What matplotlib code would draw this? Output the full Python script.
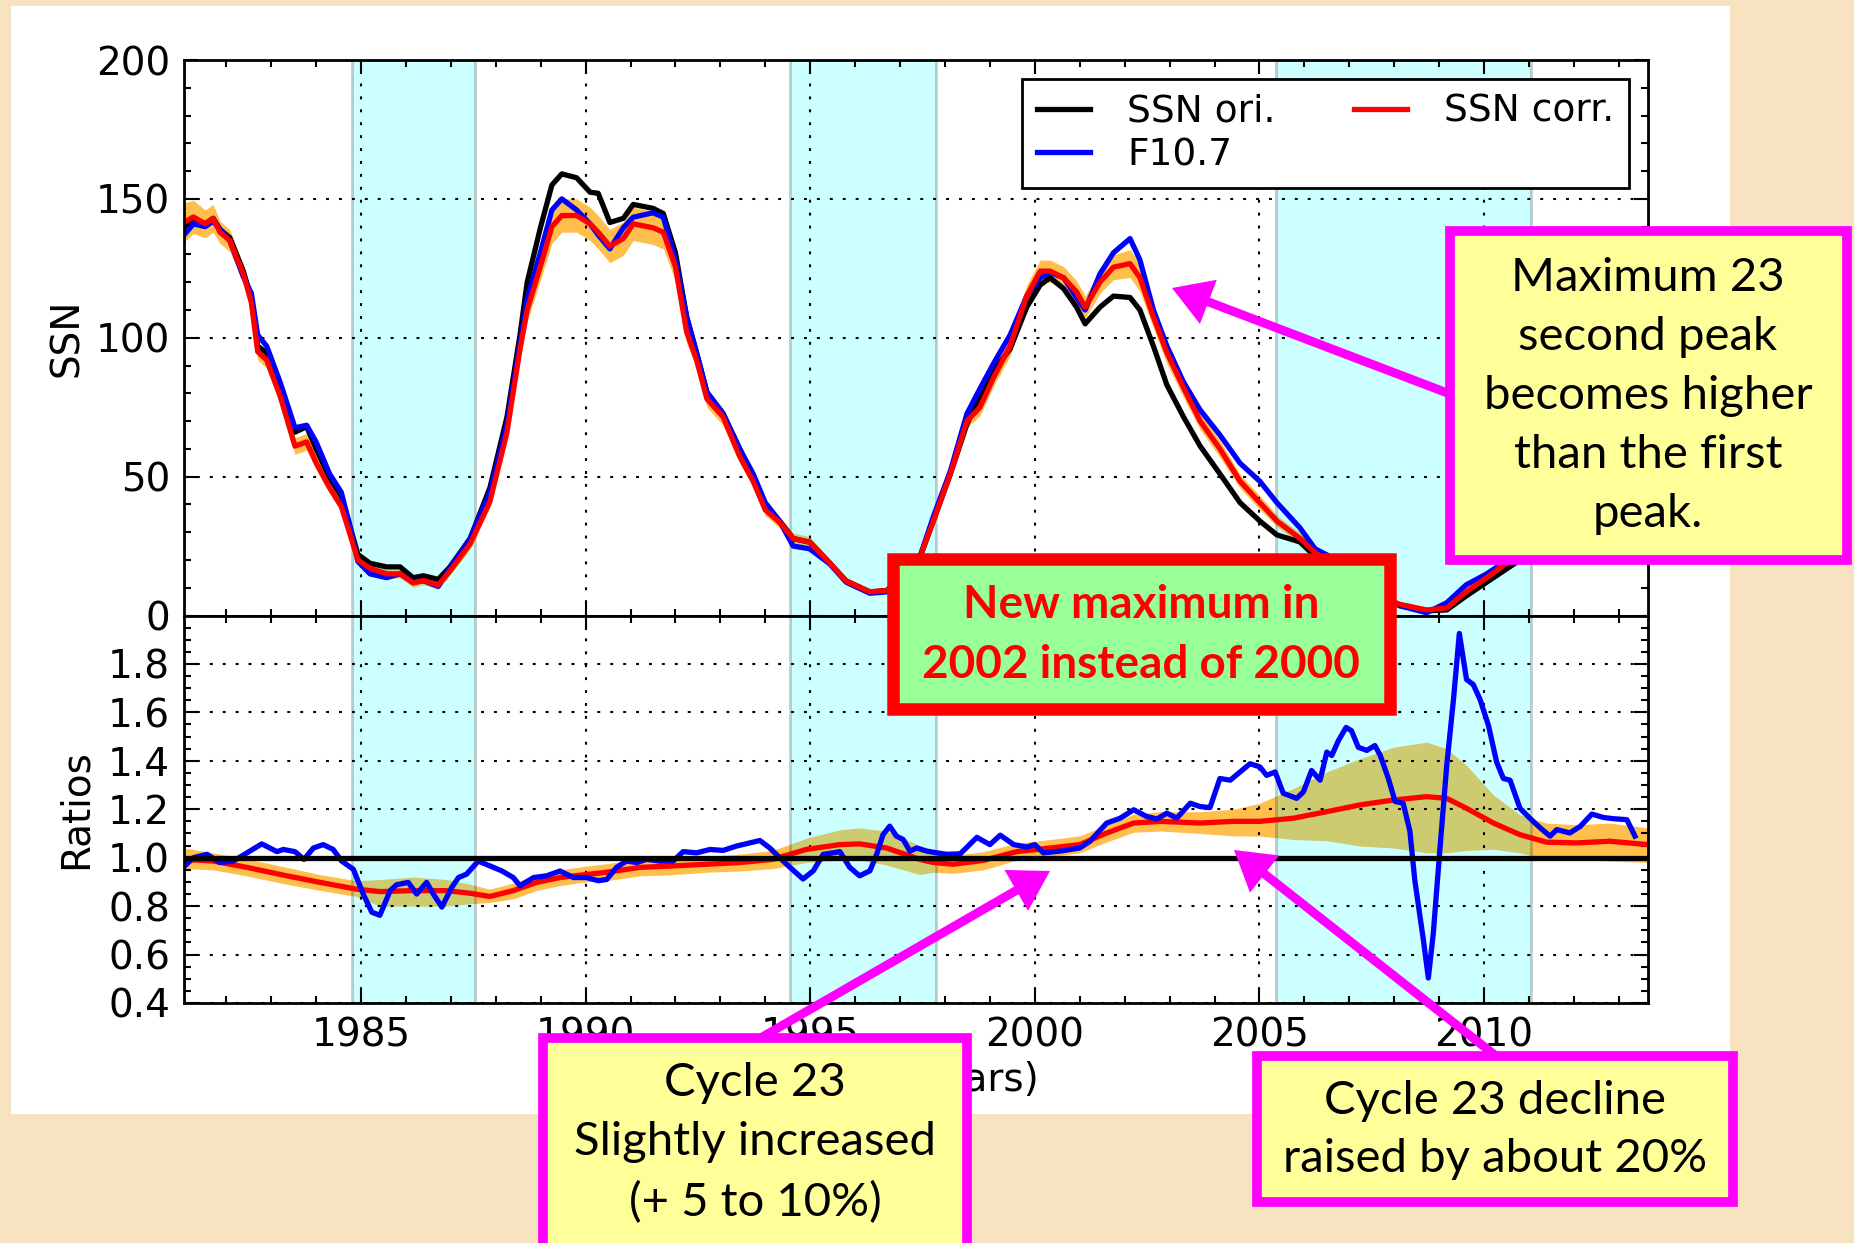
import matplotlib
matplotlib.use("Agg")
import matplotlib.pyplot as plt
import numpy as np
from matplotlib.patches import Rectangle, FancyArrowPatch
from matplotlib.ticker import MultipleLocator, FormatStrFormatter

W, H = 1854, 1243

# ---- top panel: SSN original, F10.7 proxy, corrected SSN (+ error)
years_top = [1981.06, 1981.27, 1981.53, 1981.71, 1981.86, 1982.08, 1982.38, 1982.56, 1982.70, 1982.90,
             1983.20, 1983.53, 1983.79, 1984.00, 1984.30, 1984.56, 1984.74, 1984.93, 1985.20, 1985.57,
             1985.87, 1986.16, 1986.39, 1986.72, 1986.98, 1987.43, 1987.87, 1988.25, 1988.54, 1988.70,
             1989.00, 1989.25, 1989.47, 1989.80, 1990.10, 1990.28, 1990.54, 1990.84, 1991.06, 1991.50,
             1991.73, 1992.00, 1992.25, 1992.47, 1992.70, 1993.06, 1993.43, 1993.73, 1994.00, 1994.32,
             1994.62, 1994.99, 1995.44, 1995.80, 1996.33, 1996.70, 1997.00, 1997.45, 1997.74, 1998.12,
             1998.49, 1998.78, 1999.08, 1999.45, 1999.82, 2000.12, 2000.34, 2000.64, 2000.93, 2001.12,
             2001.45, 2001.75, 2002.12, 2002.34, 2002.64, 2002.94, 2003.31, 2003.68, 2004.12, 2004.57,
             2005.01, 2005.39, 2005.90, 2006.24, 2006.72, 2007.30, 2007.80, 2008.13, 2008.72, 2009.17,
             2009.60, 2010.06, 2010.43, 2010.80, 2011.20, 2011.60, 2012.00, 2012.50, 2013.00, 2013.65]
ssn_ori = [140, 143, 141, 143, 139, 136, 124, 114, 97, 94.6,
           82, 66, 68, 60, 49.6, 43, 33, 22, 18.8, 17.5,
           17.5, 13.6, 14.3, 13, 17.5, 27.7, 46, 71.5, 101, 120,
           140, 155, 159, 157.6, 152.4, 152, 141.5, 143, 148, 146.6,
           144.7, 130.6, 107.5, 94.6, 80.4, 72.7, 60, 49.6, 39.3, 34,
           27.7, 26.4, 18.8, 12.4, 8.5, 9, 13, 21.3, 34, 51,
           69, 79, 88, 96, 111, 119, 121.6, 117.7, 111, 105,
           111, 115, 114.5, 110, 97, 83, 71.5, 61, 51, 40.6,
           34, 29, 26.5, 21.3, 16, 9, 6, 3.5, 1.7, 2,
           7, 12, 16, 20, 30, 45, 60, 58, 57, 60]
f107 = [137, 141, 140, 142, 139, 135, 122, 116, 101, 97,
        84, 67.6, 68.5, 62.5, 51, 44.4, 33, 19.5, 15, 13.6,
        15, 12, 12.5, 10.5, 17, 27.7, 44.5, 69, 98, 114,
        131, 146, 150, 146, 141, 137, 132, 139.6, 143.4, 145,
        143.4, 128, 107.5, 94.6, 80.4, 72.7, 60, 51, 40.6, 34,
        25, 24, 18.5, 12, 8, 8.5, 13, 21.5, 35.5, 52,
        72.7, 81.7, 90.7, 101, 115, 121.6, 123.5, 121.6, 114.5, 110,
        123, 130.6, 135.7, 128, 110, 97, 84, 74, 65, 54.8,
        48.3, 40.6, 31.6, 24, 20, 12, 7, 3.5, 1, 4.6,
        11, 15, 19, 24, 36, 50, 62, 60, 58, 62]
ssn_corr = [141.5, 143.5, 141, 143, 138, 135, 123, 112.6, 95, 92,
            79, 61, 62.5, 55, 46, 39.3, 30, 20, 17, 15,
            15, 11.7, 12.6, 11, 16, 25.8, 41, 66, 96, 110,
            126, 140, 144, 144, 141, 138, 133, 135.7, 141, 139.6,
            138, 125.5, 102, 92, 78, 71.5, 57.3, 48.3, 38, 33.5,
            27.7, 26.4, 18.8, 12.4, 8.5, 9, 13, 21.3, 34, 51,
            70, 75, 85.6, 97, 115, 124, 124, 121.6, 116.5, 111,
            120, 125.4, 126.7, 121.6, 107.5, 94.6, 82, 70, 60, 48.3,
            40.6, 34, 27.8, 22.6, 17, 10, 6, 4, 2, 2.7,
            8.5, 13.6, 18, 22, 33, 50, 66, 64, 62, 66]
corr_err = [7, 6, 5, 5, 4,
            4, 3, 3, 3, 3,
            3, 3, 3, 2.5, 2, 2, 1.5, 1.5,
            1.5, 1.5, 1.5, 1.5, 1.5, 1.5, 1.5, 2, 2,
            3, 4, 4,
            5, 6, 6, 6, 6, 6, 6, 6, 6, 6, 6,
            5, 4, 3, 3, 3, 2.5, 2, 2,
            2, 2, 2, 1.5, 1.5, 1, 1, 1, 1,
            1.5, 2, 2.5, 3, 3, 3.5, 4,
            4, 4, 4, 4, 4, 4, 4.5, 5, 5,
            4, 4, 3.5, 3, 3, 2.5, 2.5,
            2, 2, 1.5, 1.5, 1, 1, 1, 1, 1, 1, 1, 1.5, 2, 3, 4, 5, 5, 5, 5]

# ---- bottom panel: ratios
years_blue = [1981.08, 1981.27, 1981.57, 1981.86, 1982.16, 1982.46, 1982.79, 1983.13, 1983.27, 1983.53,
              1983.73, 1983.94, 1984.16, 1984.38, 1984.57, 1984.83, 1985.05, 1985.24, 1985.42, 1985.65,
              1985.79, 1986.05, 1986.24, 1986.46, 1986.61, 1986.80, 1987.02, 1987.17, 1987.35, 1987.61,
              1987.87, 1988.13, 1988.39, 1988.54, 1988.84, 1989.13, 1989.43, 1989.73, 1990.02, 1990.28,
              1990.47, 1990.69, 1990.91, 1991.14, 1991.36, 1991.65, 1991.95, 1992.17, 1992.47, 1992.77,
              1993.06, 1993.36, 1993.66, 1993.88, 1994.10, 1994.32, 1994.55, 1994.84, 1995.07, 1995.29,
              1995.51, 1995.66, 1995.88, 1996.10, 1996.33, 1996.48, 1996.62, 1996.77, 1996.92, 1997.07,
              1997.22, 1997.37, 1997.60, 1997.82, 1998.04, 1998.34, 1998.71, 1999.00, 1999.23, 1999.53,
              1999.82, 2000.00, 2000.19, 2000.56, 2001.00, 2001.23, 2001.60, 2001.90, 2002.20, 2002.49,
              2002.72, 2002.94, 2003.16, 2003.46, 2003.68, 2003.90, 2004.12, 2004.35, 2004.57, 2004.79,
              2005.01, 2005.16, 2005.35, 2005.53, 2005.83, 2005.98, 2006.16, 2006.35, 2006.50, 2006.61,
              2006.76, 2006.93, 2007.05, 2007.20, 2007.39, 2007.57, 2007.69, 2007.87, 2008.02, 2008.20,
              2008.35, 2008.46, 2008.65, 2008.76, 2008.87, 2009.02, 2009.17, 2009.32, 2009.45, 2009.61,
              2009.76, 2009.91, 2010.10, 2010.28, 2010.43, 2010.58, 2010.80, 2011.02, 2011.25, 2011.47,
              2011.62, 2011.91, 2012.14, 2012.40, 2012.66, 2012.88, 2013.18, 2013.36]
ratio_f107 = [0.966, 1.0, 1.014, 0.98, 0.986, 1.02, 1.057, 1.025, 1.034, 1.025,
              0.993, 1.04, 1.054, 1.034, 0.986, 0.952, 0.85, 0.775, 0.762, 0.864,
              0.888, 0.898, 0.85, 0.898, 0.85, 0.796, 0.877, 0.918, 0.932, 0.986,
              0.966, 0.946, 0.918, 0.884, 0.918, 0.925, 0.945, 0.918, 0.918, 0.905,
              0.91, 0.96, 0.986, 0.98, 0.993, 0.986, 0.986, 1.025, 1.02, 1.034,
              1.03, 1.048, 1.061, 1.071, 1.04, 1.0, 0.96, 0.912, 0.946, 1.014,
              1.02, 1.025, 0.96, 0.925, 0.946, 1.014, 1.095, 1.13, 1.089, 1.075,
              1.027, 1.04, 1.027, 1.02, 1.014, 1.016, 1.084, 1.054, 1.093, 1.054,
              1.044, 1.054, 1.02, 1.027, 1.04, 1.068, 1.143, 1.163, 1.198, 1.17,
              1.16, 1.184, 1.163, 1.225, 1.211, 1.207, 1.327, 1.32, 1.354, 1.388,
              1.375, 1.34, 1.354, 1.266, 1.245, 1.272, 1.36, 1.32, 1.436, 1.422,
              1.484, 1.538, 1.524, 1.456, 1.443, 1.463, 1.422, 1.327, 1.232, 1.225,
              1.109, 0.905, 0.66, 0.503, 0.687, 1.041, 1.381, 1.654, 1.926, 1.736,
              1.715, 1.654, 1.545, 1.395, 1.327, 1.32, 1.204, 1.163, 1.123, 1.089,
              1.116, 1.102, 1.129, 1.18, 1.166, 1.161, 1.157, 1.089]

years_red = [1981.06, 1981.71, 1982.46, 1983.35, 1984.09, 1984.90, 1985.42, 1986.16, 1986.90, 1987.43,
             1987.87, 1988.39, 1988.91, 1989.43, 1990.00, 1990.47, 1991.21, 1991.95, 1992.70, 1993.43,
             1994.17, 1994.91, 1995.66, 1996.10, 1996.70, 1997.44, 1997.74, 1998.19, 1998.86, 1999.60,
             2000.34, 2001.00, 2001.60, 2002.20, 2002.79, 2003.68, 2004.42, 2005.01, 2005.76, 2006.50,
             2007.24, 2007.98, 2008.72, 2009.17, 2009.61, 2010.21, 2010.80, 2011.39, 2012.06, 2012.80,
             2013.65]
ratio_corr = [0.993, 0.986, 0.96, 0.925, 0.898, 0.87, 0.86, 0.864, 0.864, 0.853,
              0.84, 0.864, 0.898, 0.918, 0.93, 0.94, 0.96, 0.966, 0.973, 0.98,
              0.993, 1.034, 1.054, 1.057, 1.04, 0.993, 0.98, 0.973, 0.989, 1.025,
              1.04, 1.054, 1.102, 1.143, 1.15, 1.143, 1.15, 1.15, 1.163, 1.19,
              1.218, 1.238, 1.252, 1.245, 1.204, 1.143, 1.095, 1.064, 1.061, 1.068,
              1.054]
ratio_lo = [0.955, 0.95, 0.925, 0.89, 0.865, 0.84, 0.80, 0.80, 0.80, 0.81,
            0.815, 0.83, 0.865, 0.885, 0.90, 0.905, 0.925, 0.93, 0.94, 0.945,
            0.955, 0.98, 0.99, 0.99, 0.97, 0.93, 0.94, 0.935, 0.95, 0.99,
            1.005, 1.02, 1.065, 1.105, 1.11, 1.10, 1.09, 1.089, 1.075, 1.07,
            1.048, 1.04, 1.02, 1.02, 1.03, 1.035, 1.02, 0.993, 0.993, 0.986,
            0.98]
ratio_hi = [1.04, 1.02, 0.995, 0.96, 0.93, 0.905, 0.91, 0.92, 0.91, 0.89,
            0.87, 0.895, 0.93, 0.95, 0.965, 0.975, 0.995, 1.0, 1.005, 1.015,
            1.03, 1.08, 1.115, 1.123, 1.11, 1.05, 1.02, 1.01, 1.025, 1.06,
            1.075, 1.09, 1.135, 1.18, 1.19, 1.19, 1.20, 1.225, 1.286, 1.354,
            1.409, 1.456, 1.477, 1.45, 1.381, 1.259, 1.177, 1.143, 1.136, 1.143,
            1.123]

# solar minimum periods (shaded)
minima = [(1984.79, 1987.54), (1994.54, 1997.80), (2005.37, 2011.05)]

FS = 28
LW = 3.8
BOX_FONT = ["Lato", "DejaVu Sans"]
MAGENTA = "#FF00FF"


def fxy(x, y):
    # picture pixels (origin top-left) -> figure fraction
    return x / W, 1 - y / H


fig = plt.figure(figsize=(W / 100, H / 100), dpi=100, facecolor="#F8E3C0")
fig.add_artist(Rectangle(fxy(11, 1114), (1730 - 11) / W, (1114 - 6) / H,
                         transform=fig.transFigure, facecolor="white",
                         edgecolor="none", zorder=-5))

ax1 = fig.add_axes([184 / W, 1 - 615.5 / H, 1464 / W, 555.5 / H])
ax2 = fig.add_axes([184 / W, 1 - 1003 / H, 1464 / W, 387.5 / H], sharex=ax1)

corr = np.array(ssn_corr)
err = np.array(corr_err)
ax1.fill_between(years_top, corr - err, corr + err, color="orange", alpha=0.7, lw=0, zorder=1)
ax2.fill_between(years_red, ratio_lo, ratio_hi, color="orange", alpha=0.7, lw=0, zorder=1)

for ax in (ax1, ax2):
    for a, b in minima:
        ax.axvspan(a, b, facecolor="cyan", edgecolor="black", alpha=0.2, lw=2, zorder=1.2)

ax1.plot(years_top, ssn_ori, color="black", lw=LW, label="SSN ori.", zorder=2)
ax1.plot(years_top, f107, color="blue", lw=LW, label="F10.7", zorder=2.1)
ax1.plot(years_top, ssn_corr, color="red", lw=LW, label="SSN corr.", zorder=2.2)

ax2.plot(years_red, ratio_corr, color="red", lw=LW, zorder=2.2)
ax2.plot(years_blue, ratio_f107, color="blue", lw=LW, zorder=2.3)
ax2.axhline(1.0, color="black", lw=LW, zorder=2.4)

leg = ax1.legend(ncol=2, loc="upper right", fontsize=27, fancybox=False, framealpha=1,
                 edgecolor="black", borderpad=0.4, labelspacing=0.2, handlelength=1.4,
                 handletextpad=1.0, columnspacing=2.1, borderaxespad=0.5)
leg.get_frame().set_linewidth(2)

grid_ls = (0, (1.4, 4.8))
for ax in (ax1, ax2):
    ax.set_xlim(1981.06, 2013.65)
    ax.xaxis.set_major_locator(MultipleLocator(5))
    ax.xaxis.set_minor_locator(MultipleLocator(1))
    ax.tick_params(which="both", direction="in", top=True, right=True,
                   labelsize=FS, pad=10, width=1.5)
    ax.tick_params(which="major", length=10)
    ax.tick_params(which="minor", length=5)
    ax.grid(True, which="major", color="black", linestyle=grid_ls, linewidth=1.5)
    for s in ax.spines.values():
        s.set_linewidth(2)

ax1.set_ylim(0, 200)
ax1.yaxis.set_major_locator(MultipleLocator(50))
ax1.yaxis.set_minor_locator(MultipleLocator(10))
ax1.tick_params(labelbottom=False)
ax1.set_ylabel("SSN", fontsize=FS)
ax1.yaxis.set_label_coords(-0.067, 0.5)

ax2.set_ylim(0.4, 2.0)
ax2.set_yticks([0.4, 0.6, 0.8, 1.0, 1.2, 1.4, 1.6, 1.8])
ax2.yaxis.set_minor_locator(MultipleLocator(0.05))
ax2.xaxis.set_major_formatter(FormatStrFormatter("%d"))
ax2.set_ylabel("Ratios", fontsize=FS)
ax2.yaxis.set_label_coords(-0.061, 0.5)
ax2.set_xlabel("Time (years)", fontsize=FS)
ax2.xaxis.set_label_coords(0.5, -0.15)


def note(x0, y0, x1, y1, text, face, edge, lw, tx, ty, size, **kw):
    fig.add_artist(Rectangle(fxy(x0, y1), (x1 - x0) / W, (y1 - y0) / H,
                             transform=fig.transFigure, facecolor=face,
                             edgecolor=edge, linewidth=lw, zorder=10))
    fig.text(*fxy(tx, ty), text, ha="center", va="center", fontsize=size,
             family=BOX_FONT, zorder=11, **kw)


def arrow(tail, tip):
    fig.add_artist(FancyArrowPatch(fxy(*tail), fxy(*tip), transform=fig.transFigure,
                                   arrowstyle="simple,head_length=0.7,head_width=0.85,tail_width=0.16",
                                   mutation_scale=40, color=MAGENTA, lw=0,
                                   shrinkA=0, shrinkB=0, zorder=9))


arrow((1450, 394), (1172, 288))
arrow((757, 1040), (1050, 871))
arrow((1496, 1056), (1234, 850))

note(1450, 231, 1847, 560, "Maximum 23\nsecond peak\nbecomes higher\nthan the first\npeak.",
     "#FFFF99", MAGENTA, 7, 1648, 396, 34, linespacing=1.5)
note(893, 559, 1390, 709, "New maximum in\n2002 instead of 2000",
     "#99FF99", "red", 9, 1141, 635, 33, linespacing=1.55, color="red", weight="bold")
note(543, 1038, 967, 1250, "Cycle 23\nSlightly increased\n(+ 5 to 10%)",
     "#FFFF99", MAGENTA, 7, 755, 1143, 34, linespacing=1.5)
note(1257, 1056, 1733, 1202, "Cycle 23 decline\nraised by about 20%",
     "#FFFF99", MAGENTA, 7, 1495, 1130, 34, linespacing=1.5)

fig.savefig("out.png", dpi=100)
